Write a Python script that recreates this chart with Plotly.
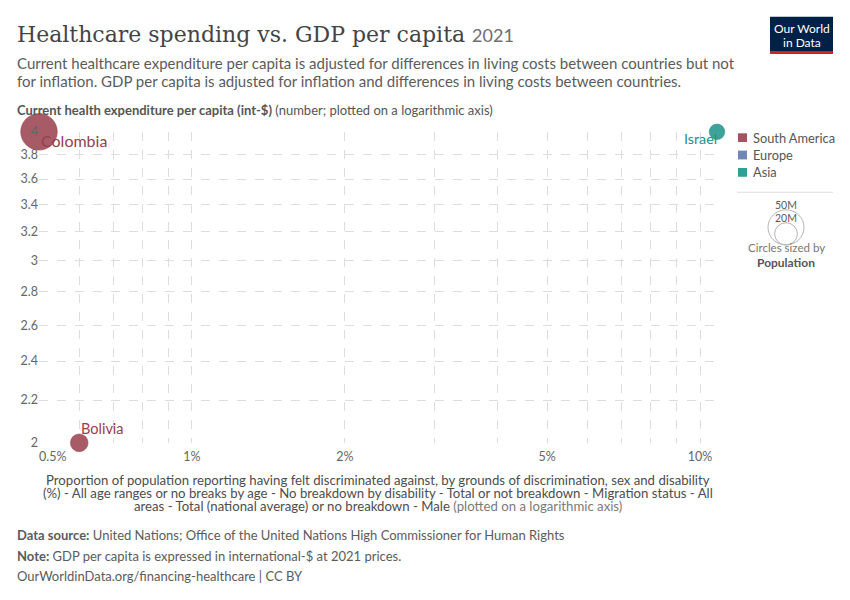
import numpy as np
import plotly.graph_objects as go

# ---------------- data ----------------
countries = ["Colombia", "Bolivia", "Israel"]
continents = ["South America", "South America", "Asia"]
discrimination_pct = [0.5, 0.6, 10.8]
health_exp = [4.0, 2.0, 4.0]
population = [51.5e6, 12.1e6, 9.3e6]

legend_continents = ["South America", "Europe", "Asia"]
continent_colors = {"South America": "#a2535f", "Europe": "#6f88b7", "Asia": "#339e95"}
label_colors = {"South America": "#97404d", "Europe": "#4c6a9c", "Asia": "#2a8d85"}

x_tick_vals = [0.5, 0.6, 0.7, 0.8, 0.9, 1, 2, 3, 4, 5, 6, 7, 8, 9, 10]
x_tick_text = {1: "1%", 2: "2%", 5: "5%", 10: "10%"}
x_edge_tick = [0.5]
x_edge_text = ["0.5%"]
x_range = [0.5, 10.8]

y_tick_vals = [2, 2.2, 2.4, 2.6, 2.8, 3, 3.2, 3.4, 3.6, 3.8, 4]
y_tick_text = ["2", "2.2", "2.4", "2.6", "2.8", "3", "3.2", "3.4", "3.6", "3.8", "4"]
y_range = [2, 4]

size_legend_pops = [50e6, 20e6]
size_legend_labels = ["50M", "20M"]

# label placement: (anchor, x offset px, y offset px downward, font size) relative to the point
label_anchor = {"Colombia": ("left", 0, 9, 16), "Bolivia": ("left", 0, -14, 14.5), "Israel": ("right", 2, 7, 14.3)}

W, H = 850, 600
def px(x):
    return x / W
def py(y):
    return 1 - y / H

FONT = "Lato"
MAX_D = 36.0
sizeref = 2 * size_legend_pops[0] / MAX_D ** 2
EPS = 1e-6

fig = go.Figure()

for cont in legend_continents:
    idx = [i for i, c in enumerate(continents) if c == cont]
    if not idx:
        continue
    fig.add_trace(go.Scatter(
        x=[discrimination_pct[i] for i in idx],
        y=[health_exp[i] for i in idx],
        mode="markers",
        marker=dict(size=[population[i] for i in idx], sizemode="area", sizeref=sizeref,
                    color=continent_colors[cont], opacity=0.95,
                    line=dict(width=0.6, color=label_colors[cont])),
        text=[countries[i] for i in idx],
        cliponaxis=False,
        showlegend=False,
        hoverinfo="text",
    ))

# invisible helper so the overlay axis (edge tick label) gets drawn
fig.add_trace(go.Scatter(x=x_edge_tick, y=[y_range[0]], xaxis="x2", yaxis="y", mode="markers",
                         marker=dict(opacity=0, size=1), hoverinfo="skip", showlegend=False))

annotations = []
for i, name in enumerate(countries):
    xa, xs, ys, fs = label_anchor[name]
    annotations.append(dict(
        x=np.log10(discrimination_pct[i]), y=np.log10(health_exp[i]), xref="x", yref="y",
        text=name, showarrow=False, xanchor=xa, yanchor="middle", xshift=xs, yshift=-ys,
        font=dict(family=FONT, size=fs, color=label_colors[continents[i]]),
    ))

# titles
annotations.append(dict(
    x=px(15), y=py(27), xref="paper", yref="paper", xanchor="left", yanchor="middle", showarrow=False,
    text="Healthcare spending vs. GDP per capita <span style='font-family:Lato;font-size:18px;color:#6e6e6e'>2021</span>",
    font=dict(family="DejaVu Serif", size=22, color="#444444"),
))
subtitle_lines = [
    "Current healthcare expenditure per capita is adjusted for differences in living costs between countries but not",
    "for inflation. GDP per capita is adjusted for inflation and differences in living costs between countries.",
]
for k, line in enumerate(subtitle_lines):
    annotations.append(dict(
        x=px(15), y=py(56 + 19.3 * k), xref="paper", yref="paper", xanchor="left", yanchor="middle",
        showarrow=False, text=line, font=dict(family=FONT, size=15, color="#5b5b5b"),
    ))

annotations.append(dict(
    x=px(15), y=py(105), xref="paper", yref="paper", xanchor="left", yanchor="middle", showarrow=False,
    text="<b>Current health expenditure per capita (int-$)</b> (number; plotted on a logarithmic axis)",
    font=dict(family=FONT, size=13, color="#555555"),
))

xtitle_lines = [
    "Proportion of population reporting having felt discriminated against, by grounds of discrimination, sex and disability",
    "(%) - All age ranges or no breaks by age - No breakdown by disability - Total or not breakdown - Migration status - All",
    "areas - Total (national average) or no breakdown - Male <span style='color:#7a7a7a'>(plotted on a logarithmic axis)</span>",
]
for k, line in enumerate(xtitle_lines):
    annotations.append(dict(
        x=px(378), y=py(484 + 13.3 * k), xref="paper", yref="paper", xanchor="center", yanchor="middle",
        showarrow=False, text=line, font=dict(family=FONT, size=13.2, color="#4d4d4d"), borderpad=0,
    ))

footer_lines = [
    "<b>Data source:</b> United Nations; Office of the United Nations High Commissioner for Human Rights",
    "<b>Note:</b> GDP per capita is expressed in international-$ at 2021 prices.",
    "OurWorldinData.org/financing-healthcare | CC BY",
]
for k, line in enumerate(footer_lines):
    annotations.append(dict(
        x=px(15), y=py(541 + 21 * k), xref="paper", yref="paper", xanchor="left", yanchor="middle",
        showarrow=False, text=line, font=dict(family=FONT, size=13, color="#5b5b5b"),
    ))

# logo
shapes = [
    dict(type="rect", xref="paper", yref="paper", x0=px(770), x1=px(833), y0=py(9), y1=py(47),
         fillcolor="#002147", line=dict(width=0), layer="above"),
    dict(type="rect", xref="paper", yref="paper", x0=px(770), x1=px(833), y0=py(44), y1=py(47),
         fillcolor="#ce261e", line=dict(width=0), layer="above"),
]
for k, line in enumerate(["Our World", "in Data"]):
    annotations.append(dict(
        x=px(801.5), y=py(21.5 + 14 * k), xref="paper", yref="paper", xanchor="center", yanchor="middle",
        showarrow=False, text=line, font=dict(family=FONT, size=12, color="#ffffff"),
    ))

# colour legend
for k, cont in enumerate(legend_continents):
    yc = 133 + 17.8 * k
    shapes.append(dict(type="rect", xref="paper", yref="paper", x0=px(738), x1=px(747),
                       y0=py(yc - 4.5), y1=py(yc + 4.5), fillcolor=continent_colors[cont], line=dict(width=0)))
    annotations.append(dict(
        x=px(751), y=py(yc), xref="paper", yref="paper", xanchor="left", yanchor="middle",
        showarrow=False, text=cont, font=dict(family=FONT, size=12.8, color="#555555"),
    ))
shapes.append(dict(type="line", xref="paper", yref="paper", x0=px(737), x1=px(833), y0=py(189), y1=py(189),
                   line=dict(color="#dddddd", width=1)))

# size legend
cx, base = 786, 243
for pop, lab in zip(size_legend_pops, size_legend_labels):
    d = np.sqrt(2 * pop / sizeref)
    shapes.append(dict(type="circle", xref="paper", yref="paper", x0=px(cx - d / 2), x1=px(cx + d / 2),
                       y0=py(base - d), y1=py(base), line=dict(color="#b5b5b5", width=1),
                       fillcolor="rgba(0,0,0,0)"))
    annotations.append(dict(
        x=px(cx), y=py(base - d + 2), xref="paper", yref="paper", xanchor="center", yanchor="bottom",
        showarrow=False, text=lab, font=dict(family=FONT, size=10.5, color="#5b5b5b"), borderpad=0,
    ))
annotations.append(dict(x=px(cx), y=py(246), xref="paper", yref="paper", xanchor="center", yanchor="middle",
                        showarrow=False, text="Circles sized by", font=dict(family=FONT, size=11.5, color="#777777")))
annotations.append(dict(x=px(cx), y=py(261), xref="paper", yref="paper", xanchor="center", yanchor="middle",
                        showarrow=False, text="<b>Population</b>", font=dict(family=FONT, size=12, color="#555555")))

grid = dict(showgrid=True, gridcolor="#dddddd", griddash="dash", gridwidth=1, zeroline=False,
            showline=False, ticks="")
x_dom = [px(39), px(717)]
x_log_range = [np.log10(x_range[0]) - EPS, np.log10(x_range[1]) + EPS]
fig.update_layout(
    width=W, height=H, margin=dict(l=0, r=0, t=0, b=0),
    paper_bgcolor="white", plot_bgcolor="white",
    font=dict(family=FONT, color="#666666"),
    xaxis=dict(type="log", range=x_log_range, domain=x_dom, anchor="y",
               tickvals=x_tick_vals, ticktext=[x_tick_text.get(v, "") for v in x_tick_vals],
               ticklabelstandoff=5,
               tickfont=dict(family=FONT, size=12.5, color="#666666"), **grid),
    xaxis2=dict(type="log", range=x_log_range, overlaying="x", anchor="y", side="bottom",
                tickvals=x_edge_tick, ticktext=x_edge_text, ticklabelposition="outside right",
                ticklabelstandoff=5,
                showgrid=False, zeroline=False, showline=False, ticks="",
                tickfont=dict(family=FONT, size=12.5, color="#666666")),
    yaxis=dict(type="log", range=[np.log10(y_range[0]) - EPS, np.log10(y_range[1]) + EPS],
               domain=[py(446), py(127)],
               tickvals=y_tick_vals, ticktext=y_tick_text,
               tickfont=dict(family=FONT, size=12.5, color="#666666"), **grid),
    annotations=annotations, shapes=shapes, showlegend=False,
)

fig.write_html("out.html", config={"displayModeBar": False},
               post_script="document.body.style.margin='0';")
